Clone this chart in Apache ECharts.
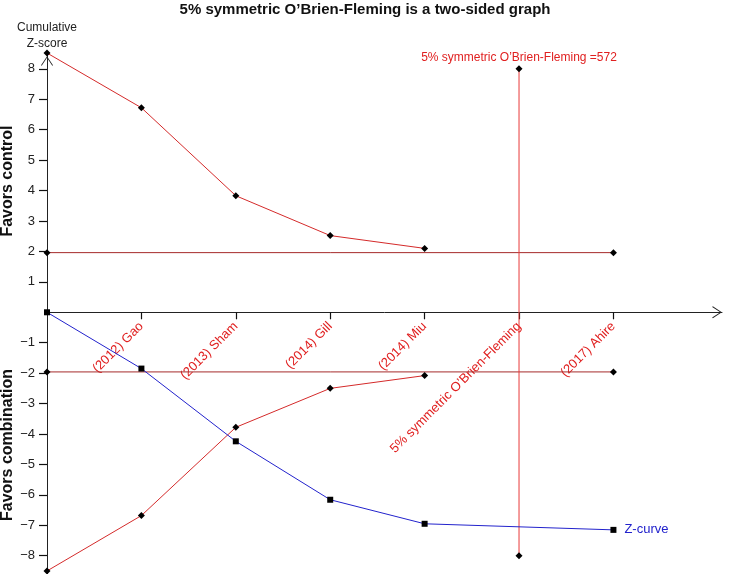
<!DOCTYPE html>
<html>
<head>
<meta charset="utf-8">
<script src="https://cdn.jsdelivr.net/npm/echarts@6/dist/echarts.min.js"></script>
<style>html,body{margin:0;padding:0;background:#fff}#c{width:730px;height:574px}</style>
</head>
<body>
<div id="c"></div>
<script>
// ---- data ----
const categories = ['(2012) Gao', '(2013) Sham', '(2014) Gill', '(2014) Miu', '5% symmetric O\u2019Brien-Fleming', '(2017) Ahire'];
const categoryPositions = [1, 2, 3, 4, 5, 6];
const boundaryPositions = [0, 1, 2, 3, 4];
const upperBoundary = [8.52, 6.72, 3.83, 2.52, 2.10];
const lowerBoundary = [-8.50, -6.68, -3.78, -2.50, -2.08];
const zPositions = [0, 1, 2, 3, 4, 6];
const zCurve = [0, -1.85, -4.24, -6.16, -6.95, -7.15];
const conventionalPositions = [0, 6];
const conventionalUpper = [1.96, 1.96];
const conventionalLower = [-1.96, -1.96];
const obfPosition = 5;
const obfValues = [8, -8];
const obfLabel = '5% symmetric O\u2019Brien-Fleming =572';
const yTicks = [-8, -7, -6, -5, -4, -3, -2, -1, 1, 2, 3, 4, 5, 6, 7, 8];
const yMin = -8.6, yMax = 8.52;
const xMin = 0, xMax = 7.15;

const FONT = '"Liberation Sans", Arial, sans-serif';
const chevron = 'path://M0,0 L6,9 L5.3,9.7 L0,1.6 L-5.3,9.7 L-6,9 Z';

function pts(xs, ys) { return xs.map((x, i) => [x, ys[i]]); }

const GRID_TOP = 53, GRID_BOTTOM = 0, H = 574;
// offset that places the x axis on the zero line of the y scale
const plotH = H - GRID_TOP - GRID_BOTTOM;
const zeroFromBottom = plotH * (0 - yMin) / (yMax - yMin);

const chart = echarts.init(document.getElementById('c'));
const diamond = { symbol: 'diamond', symbolSize: 7, itemStyle: { color: '#000' } };

const zData = pts(zPositions, zCurve).map((p, i, arr) => i === arr.length - 1
  ? { value: p, label: { show: true, position: 'right', distance: 8, formatter: 'Z-curve', color: '#2222cc', fontSize: 13, fontFamily: FONT } }
  : p);

const obfData = pts([obfPosition, obfPosition], obfValues).map((p, i) => i === 0
  ? { value: p, label: { show: true, position: 'top', distance: 2, formatter: obfLabel, color: '#e02020', fontSize: 12, fontFamily: FONT } }
  : p);

chart.setOption({
  animation: false,
  textStyle: { fontFamily: FONT },
  title: {
    text: '5% symmetric O\u2019Brien-Fleming is a two-sided graph',
    left: 'center', top: -3,
    textStyle: { fontSize: 15, fontWeight: 'bold', color: '#111', fontFamily: FONT }
  },
  grid: { left: 47, right: 8, top: GRID_TOP, bottom: GRID_BOTTOM, outerBoundsMode: 'none', containLabel: false },
  xAxis: {
    type: 'value', min: xMin, max: xMax, position: 'bottom', offset: -zeroFromBottom,
    axisLine: { onZero: false, lineStyle: { color: '#222', width: 1 }, symbol: ['none', chevron], symbolSize: [12, 10], symbolOffset: [0, -5] },
    axisTick: { show: true, customValues: categoryPositions, length: 7, lineStyle: { color: '#111', width: 1.2 } },
    axisLabel: {
      customValues: categoryPositions, rotate: 45, color: '#e02020', fontSize: 13, margin: 12,
      formatter: v => categories[categoryPositions.indexOf(Math.round(v))] || ''
    },
    splitLine: { show: false }
  },
  yAxis: {
    type: 'value', min: yMin, max: yMax,
    name: 'Cumulative\nZ-score', nameLocation: 'end', nameGap: 1,
    nameTextStyle: { color: '#222', fontSize: 12, lineHeight: 16, align: 'center', fontFamily: FONT },
    axisLine: { show: true, lineStyle: { color: '#222', width: 1 }, symbol: ['none', chevron], symbolSize: [12, 10], symbolOffset: [0, -8] },
    axisTick: { show: true, customValues: yTicks, length: 8, lineStyle: { color: '#111', width: 1.2 } },
    axisLabel: { customValues: yTicks, color: '#222', fontSize: 13, margin: 12,
      formatter: v => v < 0 ? '\u2212' + Math.abs(v) : String(v) },
    splitLine: { show: false }
  },
  graphic: [
    { type: 'text', x: 8, y: 181, rotation: Math.PI / 2, style: { text: 'Favors control', font: 'bold 16px ' + FONT, fill: '#111', align: 'center', verticalAlign: 'middle' } },
    { type: 'text', x: 8, y: 445, rotation: Math.PI / 2, style: { text: 'Favors combination', font: 'bold 16px ' + FONT, fill: '#111', align: 'center', verticalAlign: 'middle' } }
  ],
  series: [
    Object.assign({ type: 'line', data: pts(boundaryPositions, upperBoundary), lineStyle: { color: '#d42a2a', width: 1 } }, diamond),
    Object.assign({ type: 'line', data: pts(boundaryPositions, lowerBoundary), lineStyle: { color: '#d42a2a', width: 1 } }, diamond),
    Object.assign({ type: 'line', data: pts(conventionalPositions, conventionalUpper), lineStyle: { color: '#a52a2a', width: 1 } }, diamond),
    Object.assign({ type: 'line', data: pts(conventionalPositions, conventionalLower), lineStyle: { color: '#a52a2a', width: 1 } }, diamond),
    Object.assign({ type: 'line', data: obfData, lineStyle: { color: '#e83838', width: 1 } }, diamond),
    { type: 'line', data: zData, symbol: 'rect', symbolSize: 6, itemStyle: { color: '#000' }, lineStyle: { color: '#2222cc', width: 1 } }
  ]
});
</script>
</body>
</html>
